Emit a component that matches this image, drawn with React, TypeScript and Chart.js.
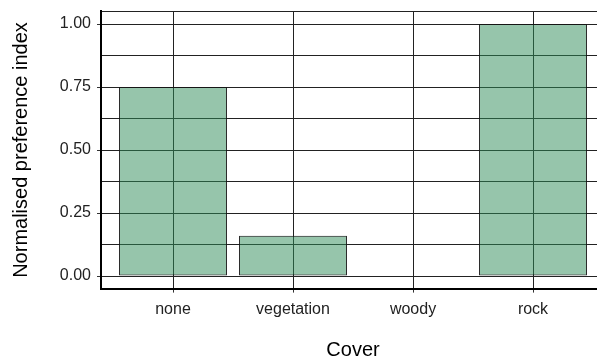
import { useEffect, useRef } from 'react';
import { Chart, registerables } from 'chart.js';

Chart.register(...registerables);

// Cover types on the x axis and their preference index
const categories = ['none', 'vegetation', 'woody', 'rock'];
const preference = [0.75, 0.16, 0, 1.0];

// Y axis breaks: labelled majors and unlabelled minors
const yMajorTicks = [0, 0.25, 0.5, 0.75, 1];
const yMinorTicks = [0.125, 0.375, 0.625, 0.875];
const yTickLabels = ['0.00', '0.25', '0.50', '0.75', '1.00'];

const FONT = '"Liberation Sans", Arial, Helvetica, sans-serif';

export default function App() {
  const ref = useRef<HTMLCanvasElement>(null);

  useEffect(() => {
    document.body.style.margin = '0';
    document.body.style.overflow = 'hidden';
    Chart.defaults.font.family = FONT;

    const chart = new Chart(ref.current!, {
      type: 'bar',
      data: {
        datasets: [
          {
            data: categories.map((_, i) => ({ x: i + 1, y: preference[i] })),
            backgroundColor: 'rgba(46,139,87,0.5)',
            borderColor: 'rgba(20,20,20,0.9)',
            borderWidth: 1,
            borderSkipped: false,
            categoryPercentage: 0.9,
            barPercentage: 1,
          },
        ],
      },
      options: {
        animation: false,
        responsive: true,
        maintainAspectRatio: false,
        layout: { padding: { top: 11.4, right: 10, bottom: 0, left: 0 } },
        plugins: { legend: { display: false }, tooltip: { enabled: false } },
        scales: {
          x: {
            type: 'linear',
            min: 0.4,
            max: 4.6,
            offset: false,
            afterBuildTicks: (s: any) => {
              s.ticks = categories.map((_, i) => ({ value: i + 1 }));
            },
            afterFit: (s: any) => {
              s.height = 71.4;
              s.paddingLeft = 0;
              s.paddingRight = 0;
            },
            ticks: {
              autoSkip: false,
              maxRotation: 0,
              padding: 7,
              color: '#222',
              font: { size: 16 },
              callback: (v: any) => categories[Number(v) - 1] ?? '',
            },
            grid: {
              offset: false,
              color: '#222',
              lineWidth: 1,
              drawTicks: true,
              tickLength: 4,
              tickColor: '#333',
            },
            border: { display: true, color: '#000', width: 2 },
            title: {
              display: true,
              text: 'Cover',
              color: '#000',
              font: { size: 20, lineHeight: 1 },
              padding: { top: 0, bottom: 0 },
            },
          },
          y: {
            type: 'linear',
            min: -0.05,
            max: 1.05,
            afterBuildTicks: (s: any) => {
              const vals = [...yMajorTicks, ...yMinorTicks].sort((a, b) => a - b);
              vals.push(s.max);
              s.ticks = vals.map((v) => ({ value: v }));
            },
            afterFit: (s: any) => {
              s.width = 101;
              s.paddingTop = 0;
              s.paddingBottom = 0;
            },
            ticks: {
              autoSkip: false,
              padding: 6,
              color: '#222',
              font: { size: 16 },
              callback: (v: any) => {
                const i = yMajorTicks.indexOf(Number(v));
                return i >= 0 ? yTickLabels[i] : '';
              },
            },
            grid: {
              color: '#222',
              lineWidth: 1,
              drawTicks: true,
              tickLength: 4,
              tickColor: (ctx: any) =>
                ctx.tick && yMajorTicks.includes(ctx.tick.value) ? '#333' : 'rgba(0,0,0,0)',
            },
            border: { display: true, color: '#000', width: 2 },
            title: {
              display: true,
              text: 'Normalised preference index',
              color: '#000',
              font: { size: 20, lineHeight: 1.2 },
              padding: { top: 9, bottom: 0 },
            },
          },
        },
      },
    });
    return () => chart.destroy();
  }, []);

  return (
    <div style={{ position: 'fixed', left: 0, top: 0, width: 615, height: 360 }}>
      <canvas ref={ref} />
    </div>
  );
}
